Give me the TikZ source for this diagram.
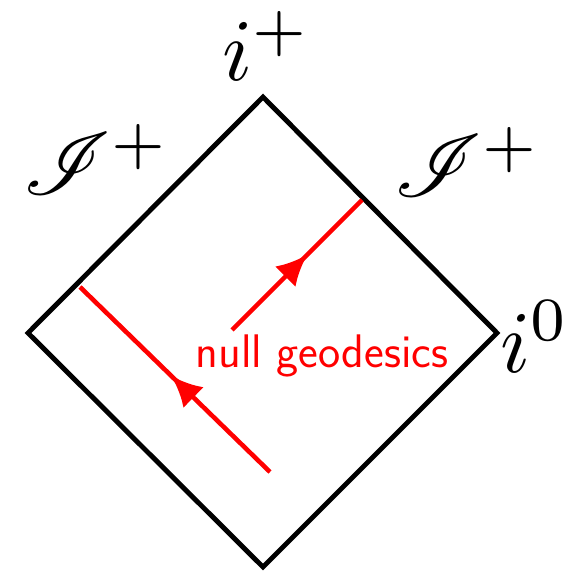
\documentclass[tikz,border=0pt]{standalone}
\usepackage{amsmath, amssymb}
\usepackage{mathrsfs}
\usepackage{tikz}
\usetikzlibrary{arrows.meta, decorations.markings}

\begin{document}
\begin{tikzpicture}[
    edge/.style={line width=2.8pt, line join=miter, draw=black},
    ray/.style={draw=red, line width=2.6pt, postaction={decorate},
        decoration={markings, mark=at position #1 with {\arrow[red]{Latex[length=6.2mm, width=5.8mm]}}}},
    tag/.style={inner sep=0pt, scale=5},
    caption/.style={inner sep=0pt, anchor=base, text=red, font=\fontsize{26.8}{32}\selectfont\sffamily}
]
\useasboundingbox (0,0) rectangle (11.38,11.46);
\coordinate (top) at (5.26,9.52);
\coordinate (left) at (0.56,4.80);
\coordinate (right) at (9.94,4.80);
\coordinate (bottom) at (5.26,0.12);
\draw[edge] (top)--(right)--(bottom)--(left)--cycle;
% null rays
\coordinate (r1a) at (5.40,2.02);
\coordinate (r1b) at (1.60,5.72);
\coordinate (r2a) at (4.64,4.86);
\coordinate (r2b) at (7.24,7.46);
\draw[ray=0.52] (r1a)--(r1b);
\draw[ray=0.58] (r2a)--(r2b);
\node[caption] (null) at (6.44,4.10) {null geodesics};
% labels
\node[tag] (iplus) at (5.34,10.54) {$i^+$};
\node[tag] (izero) at (10.70,4.72) {$i^0$};
\node[tag] (scrileft) at (1.93,8.27) {$\mathscr{I}^+$};
\node[tag] (scriright) at (9.35,8.22) {$\mathscr{I}^+$};
\end{tikzpicture}
\end{document}
